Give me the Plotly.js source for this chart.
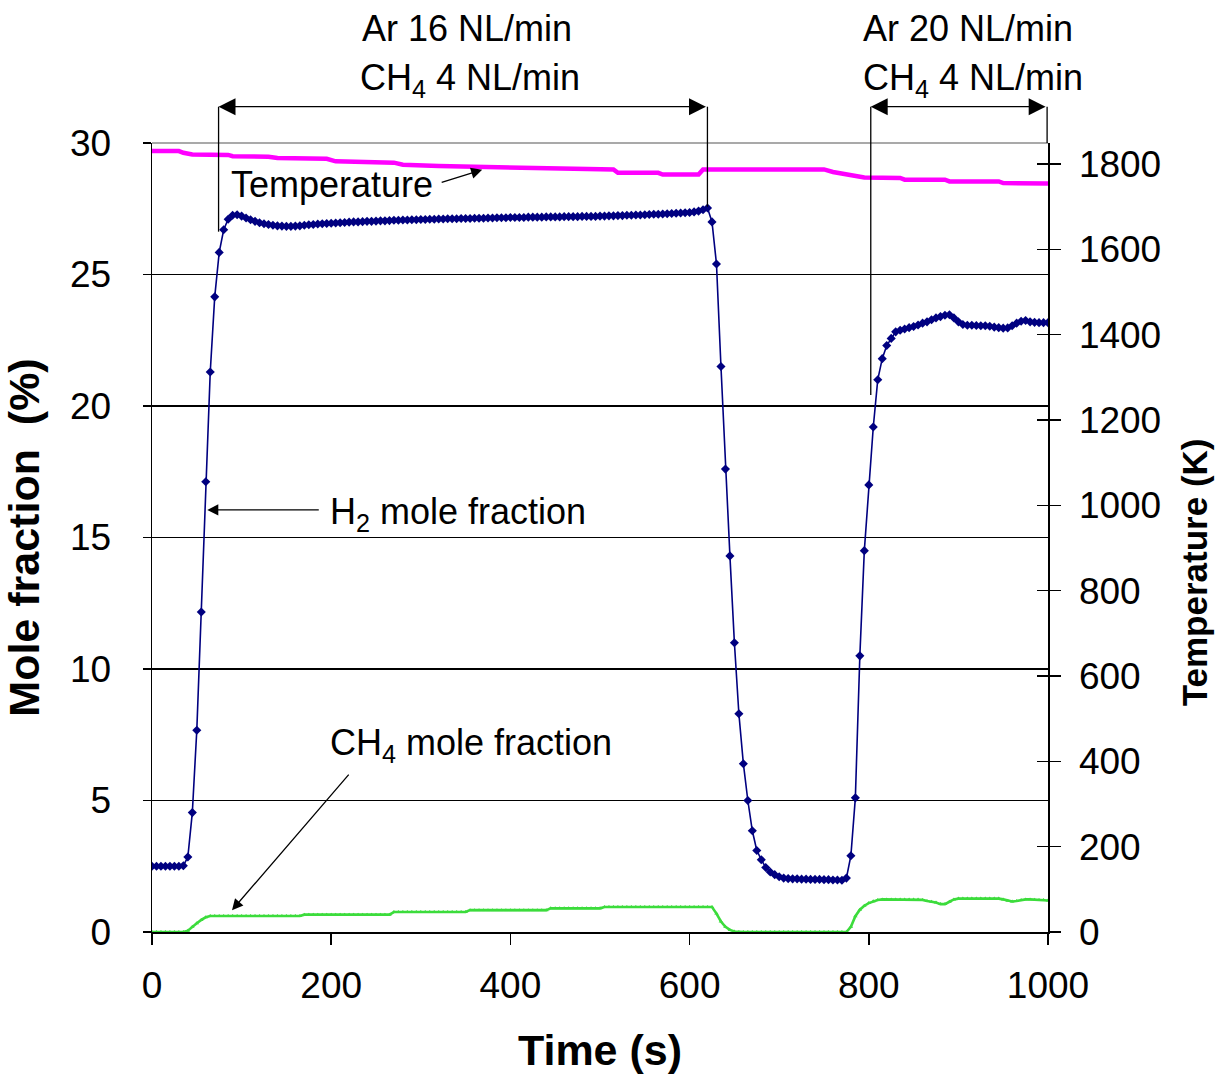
<!DOCTYPE html>
<html><head><meta charset="utf-8">
<script src="https://cdn.plot.ly/plotly-3.0.1.min.js"></script>
<style>html,body{margin:0;padding:0;background:#fff}#chart{width:1223px;height:1081px}</style>
</head><body><div id="chart"></div>
<script>
// time in seconds (5 s sampling)
const time = [
0,5,10,15,20,25,30,35,40,45,
50,55,60,65,70,75,80,85,90,95,
100,105,110,115,120,125,130,135,140,145,
150,155,160,165,170,175,180,185,190,195,
200,205,210,215,220,225,230,235,240,245,
250,255,260,265,270,275,280,285,290,295,
300,305,310,315,320,325,330,335,340,345,
350,355,360,365,370,375,380,385,390,395,
400,405,410,415,420,425,430,435,440,445,
450,455,460,465,470,475,480,485,490,495,
500,505,510,515,520,525,530,535,540,545,
550,555,560,565,570,575,580,585,590,595,
600,605,610,615,620,625,630,635,640,645,
650,655,660,665,670,675,680,685,690,695,
700,705,710,715,720,725,730,735,740,745,
750,755,760,765,770,775,780,785,790,795,
800,805,810,815,820,825,830,835,840,845,
850,855,860,865,870,875,880,885,890,895,
900,905,910,915,920,925,930,935,940,945,
950,955,960,965,970,975,980,985,990,995,
1000];
// H2 mole fraction (%)
const h2 = [
2.5,2.5,2.5,2.5,2.5,2.5,2.5,2.52,2.85,4.54,
7.67,12.17,17.12,21.29,24.15,25.84,26.70,27.1,27.25,27.27,
27.22,27.15,27.08,27.02,26.97,26.93,26.9,26.87,26.85,26.84,
26.83,26.83,26.84,26.85,26.87,26.89,26.9,26.92,26.93,26.94,
26.95,26.96,26.97,26.98,26.99,27.0,27.0,27.01,27.02,27.02,
27.03,27.04,27.04,27.05,27.06,27.06,27.07,27.07,27.08,27.08,
27.09,27.09,27.1,27.1,27.11,27.11,27.12,27.12,27.12,27.13,
27.13,27.13,27.14,27.14,27.14,27.15,27.15,27.16,27.16,27.16,
27.17,27.17,27.17,27.17,27.18,27.18,27.18,27.18,27.19,27.19,
27.19,27.19,27.2,27.2,27.2,27.2,27.21,27.21,27.21,27.21,
27.22,27.22,27.23,27.23,27.24,27.24,27.25,27.25,27.26,27.26,
27.27,27.28,27.29,27.29,27.3,27.31,27.32,27.33,27.34,27.35,
27.36,27.38,27.41,27.46,27.53,27.0,25.4,21.5,17.6,14.3,
11.0,8.3,6.4,5.0,3.85,3.1,2.75,2.45,2.28,2.18,
2.1,2.05,2.03,2.02,2.02,2.01,2.01,2.0,2.0,2.0,
1.99,1.99,1.98,1.98,1.97,2.05,2.9,5.1,10.5,14.5,
17.0,19.2,21.0,21.8,22.3,22.57,22.82,22.88,22.93,22.98,
23.02,23.08,23.15,23.2,23.28,23.35,23.4,23.45,23.47,23.35,
23.2,23.1,23.07,23.07,23.06,23.05,23.05,23.03,23.0,22.98,
22.96,22.97,23.05,23.15,23.22,23.25,23.2,23.18,23.17,23.17,
23.17];
// CH4 mole fraction (%)
const ch4 = [
0,0,0,0,0,0,0,0,0.05,0.2,
0.33,0.46,0.56,0.61,0.61,0.61,0.61,0.61,0.61,0.61,
0.61,0.61,0.61,0.61,0.61,0.61,0.61,0.61,0.61,0.61,
0.61,0.61,0.61,0.61,0.66,0.66,0.66,0.66,0.66,0.66,
0.66,0.66,0.66,0.66,0.66,0.66,0.66,0.66,0.66,0.66,
0.66,0.66,0.66,0.66,0.76,0.76,0.76,0.76,0.76,0.76,
0.76,0.76,0.76,0.76,0.76,0.76,0.76,0.76,0.76,0.76,
0.76,0.83,0.83,0.83,0.83,0.83,0.83,0.83,0.83,0.83,
0.83,0.83,0.83,0.83,0.83,0.83,0.83,0.83,0.83,0.9,
0.9,0.9,0.9,0.9,0.9,0.9,0.9,0.9,0.9,0.9,
0.9,0.95,0.95,0.95,0.95,0.95,0.95,0.95,0.95,0.95,
0.95,0.95,0.95,0.95,0.95,0.95,0.95,0.95,0.95,0.95,
0.95,0.95,0.95,0.95,0.95,0.95,0.7,0.4,0.2,0.08,
0.02,0,0,0,0,0,0,0,0,0,
0,0,0,0,0,0,0,0,0,0,
0,0,0,0,0,0,0.2,0.6,0.85,1.0,
1.1,1.17,1.22,1.24,1.24,1.24,1.24,1.24,1.24,1.24,
1.24,1.24,1.22,1.18,1.15,1.12,1.06,1.06,1.15,1.24,
1.27,1.27,1.27,1.27,1.27,1.27,1.27,1.27,1.27,1.27,
1.24,1.19,1.16,1.18,1.22,1.24,1.24,1.23,1.22,1.22,
1.2];
// Temperature (K)
const tempTime = [0,30,35,45,85,90,130,140,195,205,270,280,320,400,500,515,520,565,570,610,615,750,760,780,795,835,840,885,890,945,950,1000];
const tempK    = [1830,1830,1826,1822,1821,1818,1817,1814,1812,1806,1803,1798,1795,1792,1787,1787,1779,1779,1775,1775,1787,1787,1781,1774,1768,1767,1763,1763,1759,1759,1755,1754];

const xTicks = [0,200,400,600,800,1000];
const yTicks = [0,5,10,15,20,25,30];
const y2Ticks = [0,200,400,600,800,1000,1200,1400,1600,1800];

const FONT = 'Arial, "Liberation Sans", sans-serif';
const txt = (size) => ({size: size, color: '#000', family: FONT});

const traces = [
  {x: tempTime, y: tempK, yaxis: 'y2', mode: 'lines', line: {color: '#FF00FF', width: 4.5}, name: 'Temperature'},
  {x: time, y: h2, mode: 'lines+markers', line: {color: '#000080', width: 1.6}, marker: {symbol: 'diamond', size: 7, color: '#000080'}, name: 'H2'},
  {x: time, y: ch4, mode: 'lines+markers', line: {color: '#3CDC3C', width: 2.6}, marker: {symbol: 'triangle-up', size: 4, color: '#3CDC3C'}, name: 'CH4'},
  {x: [], y: [], yaxis: 'y3', mode: 'lines', showlegend: false, hoverinfo: 'skip'}
];

const arrowStyle = {showarrow: true, arrowhead: 2, arrowsize: 1.7, arrowwidth: 1.3, arrowcolor: '#000', standoff: 0, startstandoff: 0, text: ''};
const bracketStyle = {showarrow: true, arrowhead: 2, arrowsize: 2.6, arrowwidth: 1.3, arrowcolor: '#000', arrowside: 'end+start', standoff: 0, startstandoff: 0, text: ''};

const annotations = [
  {xref: 'x', yref: 'paper', x: 351.8, y: 1.1457, yanchor: 'middle', text: 'Ar 16 NL/min', showarrow: false, font: txt(36)},
  {xref: 'x', yref: 'paper', x: 355.1, y: 1.0798, yanchor: 'middle', text: 'CH<sub>4</sub> 4 NL/min', showarrow: false, font: txt(36)},
  {xref: 'x', yref: 'paper', x: 910.8, y: 1.1457, yanchor: 'middle', text: 'Ar 20 NL/min', showarrow: false, font: txt(36)},
  {xref: 'x', yref: 'paper', x: 916.4, y: 1.0798, yanchor: 'middle', text: 'CH<sub>4</sub> 4 NL/min', showarrow: false, font: txt(36)},
  Object.assign({xref: 'x', yref: 'paper', x: 74.3, y: 1.046, axref: 'x', ax: 619.9, ayref: 'pixel', ay: 0}, bracketStyle),
  Object.assign({xref: 'x', yref: 'paper', x: 802.2, y: 1.046, axref: 'x', ax: 999, ayref: 'pixel', ay: 0}, bracketStyle),
  {xref: 'x', yref: 'y', x: 201, y: 28.41, yanchor: 'middle', text: 'Temperature', showarrow: false, font: txt(36)},
  Object.assign({xref: 'x', yref: 'y', x: 368.5, y: 28.98, ax: -42, ay: 13}, arrowStyle),
  {xref: 'x', yref: 'y', x: 196.7, y: 15.9, xanchor: 'left', yanchor: 'middle', text: 'H<sub>2</sub> mole fraction', showarrow: false, font: txt(36)},
  Object.assign({xref: 'x', yref: 'y', x: 61.7, y: 16.05, ax: 113, ay: 0}, arrowStyle),
  {xref: 'x', yref: 'y', x: 196.7, y: 7.1, xanchor: 'left', yanchor: 'middle', text: 'CH<sub>4</sub> mole fraction', showarrow: false, font: txt(36)},
  Object.assign({xref: 'x', yref: 'y', x: 89.3, y: 0.83, ax: 118, ay: -137}, arrowStyle),
  {xref: 'paper', yref: 'paper', x: 1.163, y: 0.456, xanchor: 'center', yanchor: 'middle', textangle: -90, text: '<b>Temperature (K)</b>', showarrow: false, font: txt(35)}
];

const lineShape = (x, y0, y1) => ({type: 'line', xref: 'x', yref: 'paper', x0: x, x1: x, y0: y0, y1: y1, line: {color: '#000', width: 1.3}});
const shapes = [
  {type: 'line', xref: 'paper', yref: 'paper', x0: 0, x1: 1, y0: 1, y1: 1, line: {color: '#8c8c8c', width: 1.5}},
  lineShape(74.3, 0.8876, 1.046),
  lineShape(619.9, 0.9193, 1.046),
  lineShape(802.2, 0.6806, 1.046),
  lineShape(999, 1.0, 1.046)
];

const layout = {
  width: 1223, height: 1081,
  margin: {l: 152, r: 175, t: 143, b: 149, pad: 0},
  paper_bgcolor: '#fff', plot_bgcolor: '#fff',
  showlegend: false,
  font: {family: FONT, color: '#000'},
  xaxis: {
    range: [0, 1000], tickvals: xTicks, ticktext: xTicks.map(String),
    ticks: 'outside', ticklen: 11, tickwidth: 1.5, tickcolor: '#000',
    showline: true, linecolor: '#000', linewidth: 1.5,
    showgrid: false, zeroline: false,
    tickfont: txt(37),
    ticklabelstandoff: 9,
    title: {text: '<b>Time (s)</b>', font: txt(43), standoff: 30}
  },
  yaxis: {
    range: [0, 30], tickvals: yTicks, ticktext: yTicks.map(String),
    ticks: 'outside', ticklen: 8, tickwidth: 1.5, tickcolor: '#000',
    showline: true, linecolor: '#000', linewidth: 1.5,
    showgrid: true, gridcolor: '#000', gridwidth: 1.3, zeroline: false,
    tickfont: txt(37),
    ticklabelstandoff: 24,
    title: {text: '<b>Mole fraction  (%)</b>', font: txt(43), standoff: 19}
  },
  yaxis2: {
    overlaying: 'y', side: 'right', anchor: 'x',
    range: [0, 1849], tickvals: y2Ticks, ticktext: y2Ticks.map(String),
    ticks: 'outside', ticklen: 11, tickwidth: 1.5, tickcolor: '#000',
    showline: true, linecolor: '#000', linewidth: 1.5,
    showgrid: false, zeroline: false,
    tickfont: txt(37),
    ticklabelstandoff: 11
  },
  yaxis3: {
    overlaying: 'y', side: 'right', anchor: 'x',
    range: [0, 1849], tickvals: y2Ticks,
    ticks: 'inside', ticklen: 11, tickwidth: 1.5, tickcolor: '#000',
    showticklabels: false, showline: false, showgrid: false, zeroline: false
  },
  annotations: annotations,
  shapes: shapes
};

Plotly.newPlot('chart', traces, layout, {staticPlot: true, displayModeBar: false});
</script>
</body></html>
